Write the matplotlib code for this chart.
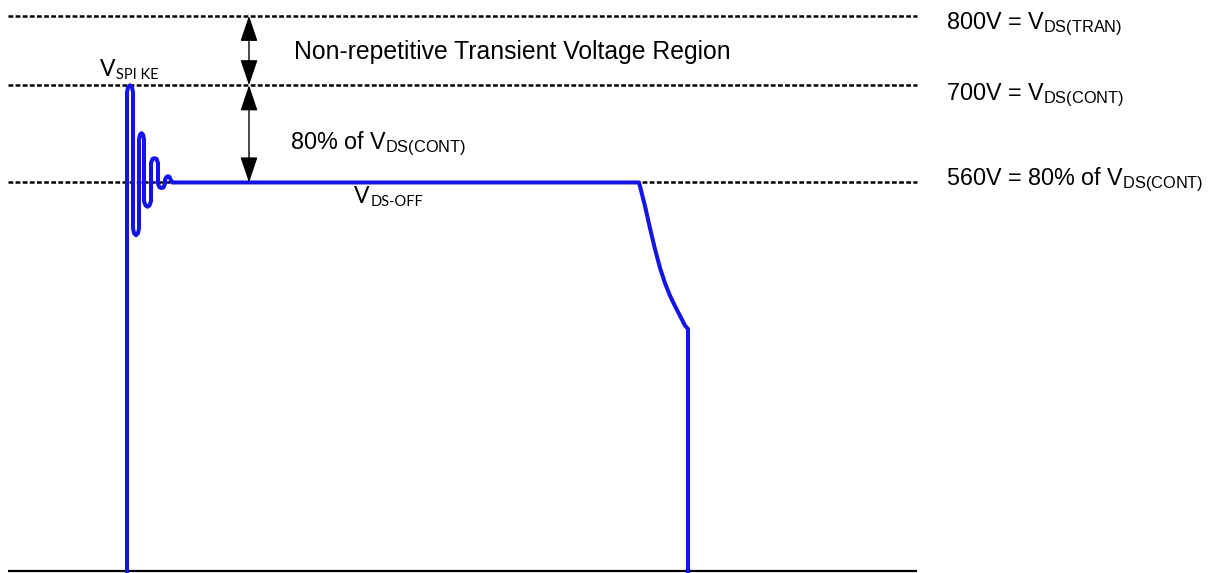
import numpy as np
import matplotlib.pyplot as plt
from matplotlib.patches import ArrowStyle

plt.rcParams['font.family'] = ['Liberation Sans', 'DejaVu Sans']
plt.rcParams['mathtext.fontset'] = 'custom'
plt.rcParams['mathtext.rm'] = 'Liberation Sans'
plt.rcParams['mathtext.it'] = 'Liberation Sans'

# livelli di tensione (V)
livelli = [800, 700, 560]
etichette_livelli = [r'800V = V$_{\mathrm{DS(TRAN)}}$',
                     r'700V = V$_{\mathrm{DS(CONT)}}$',
                     r'560V = 80% of V$_{\mathrm{DS(CONT)}}$']
y_etichette = [781, 679, 556]

# forma d'onda V_DS (tempo in unita' arbitrarie, tensione in V)
t_onda = [127, 127, 128, 130, 132, 133, 133, 134, 136, 138, 139, 139, 140, 141.5, 143, 144,
          144, 145.5, 147.5, 149.5, 151, 151, 152.5, 154.5, 156.5, 158, 158, 159.5, 161.5,
          163.5, 165, 165, 166.5, 168, 169.5, 171, 172, 639, 645, 650, 655, 660, 665,
          670, 675, 680, 685, 688, 688]
v_onda = [-10, 690, 697, 700, 697, 690, 494, 487, 484, 487, 494, 622, 629, 631, 629, 622,
          533, 527, 525, 527, 533, 588, 594, 595, 594, 588, 558, 553, 552, 553, 558, 564,
          568, 569, 568, 563, 560, 560, 526, 494, 464, 437, 415, 397, 382, 368, 354,
          349, -10]

# frecce di quota
x_frecce = 249
frecce = [(800, 700), (700, 560)]

fig = plt.figure(figsize=(12.14, 5.73), dpi=100)
ax = fig.add_axes([0, 0, 1, 1])
ax.set_xlim(0, 1214)
ax.set_ylim(-2.45, 822.8)
ax.axis('off')

# linee tratteggiate dei livelli e asse di base
for lv in livelli:
    ax.plot([8, 917], [lv, lv], color='black', lw=1.8, linestyle=(0, (1.9, 0.95)))
ax.plot([8, 917], [0, 0], color='black', lw=1.6, solid_capstyle='butt')

ax.plot(t_onda, v_onda, color='#1414e6', lw=2.9, solid_joinstyle='round',
        solid_capstyle='butt')

stile = ArrowStyle('<|-|>', head_length=0.8, head_width=0.27)
for v1, v2 in frecce:
    ax.annotate('', xy=(x_frecce, v1), xytext=(x_frecce, v2),
                arrowprops=dict(arrowstyle=stile, mutation_scale=20, color='black',
                                lw=1.0, shrinkA=0, shrinkB=0))

ax.text(294, 738, 'Non-repetitive Transient Voltage Region', fontsize=17.8,
        va='baseline', ha='left')
ax.text(290, 608, r'80% of V$_{\mathrm{DS(CONT)}}$', fontsize=16.8,
        va='baseline', ha='left')

for lab, y in zip(etichette_livelli, y_etichette):
    ax.text(946, y, lab, fontsize=16.8, va='baseline', ha='left')

# etichette V_SPIKE e V_DS-OFF (V grande + pedice)
for x, y, ped in [(100, 713, 'SPI KE'), (354, 530, 'DS-OFF')]:
    tv = ax.text(x, y, 'V', fontsize=16.5, family=['Lato', 'DejaVu Sans'],
                 va='baseline', ha='left')
    ax.annotate(ped, xy=(1, 0), xycoords=tv, xytext=(0.5, -1), textcoords='offset points',
                fontsize=10.5, family=['Lato', 'DejaVu Sans'], va='bottom', ha='left')

plt.savefig('out.png', dpi=100)
